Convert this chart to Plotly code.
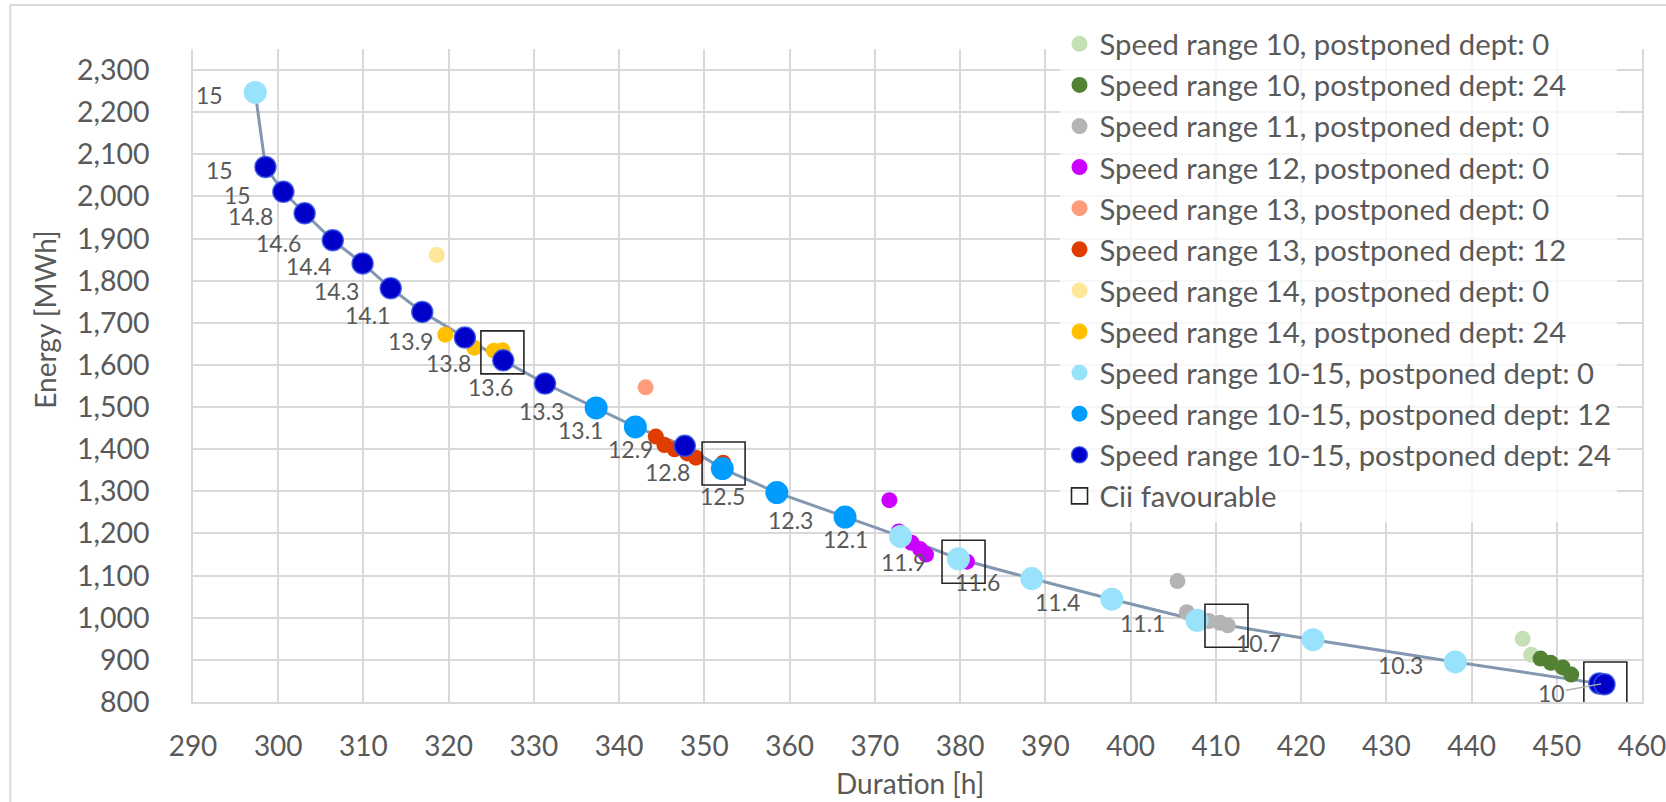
import plotly.graph_objects as go

# ---------------- data ----------------
front_x = [297.3, 298.5, 300.6, 303.1, 306.4, 309.9, 313.2, 316.9, 321.9, 326.4, 331.3, 337.3, 341.9,
           347.7, 352.1, 358.5, 366.5, 373.0, 379.8, 388.4, 397.8, 407.8, 421.4, 438.1, 455.2]
front_y = [2247, 2070, 2011, 1960, 1896, 1841, 1782, 1726, 1665, 1611, 1556, 1498, 1453,
           1408, 1354, 1297, 1239, 1193, 1140, 1093, 1044, 994, 948, 895, 843]
front_labels = ["15", "15", "15", "14.8", "14.6", "14.4", "14.3", "14.1", "13.9", "13.8", "13.6", "13.3", "13.1",
                "12.9", "12.8", "12.5", "12.3", "12.1", "11.9", "11.6", "11.4", "11.1", "10.7", "10.3", "10"]

s10_d0_x = [446.0, 447.0]
s10_d0_y = [950, 912]
s10_d24_x = [448.1, 449.3, 450.7, 451.7]
s10_d24_y = [903, 893, 882, 865]
s11_d0_x = [405.5, 406.6, 409.2, 410.5, 411.4]
s11_d0_y = [1087, 1013, 992, 988, 982]
s12_d0_x = [371.7, 372.8, 374.3, 375.3, 376.0, 380.8]
s12_d0_y = [1279, 1205, 1178, 1163, 1150, 1133]
s13_d0_x = [343.1]
s13_d0_y = [1547]
s13_d12_x = [344.3, 345.3, 346.5, 348.0, 349.0, 352.2]
s13_d12_y = [1430, 1410, 1400, 1390, 1380, 1368]
s14_d0_x = [318.6]
s14_d0_y = [1861]
s14_d24_x = [319.6, 323.0, 325.3, 326.3]
s14_d24_y = [1672, 1641, 1634, 1635]
s1015_d0_x = [297.3, 373.0, 379.8, 388.4, 397.8, 407.8, 421.4, 438.1]
s1015_d0_y = [2247, 1193, 1140, 1093, 1044, 994, 948, 895]
s1015_d12_x = [337.3, 341.9, 352.1, 358.5, 366.5]
s1015_d12_y = [1498, 1453, 1354, 1297, 1239]
s1015_d24_x = [298.5, 300.6, 303.1, 306.4, 309.9, 313.2, 316.9, 321.9, 326.4, 331.3, 347.7, 455.0, 455.6]
s1015_d24_y = [2070, 2011, 1960, 1896, 1841, 1782, 1726, 1665, 1611, 1556, 1408, 844, 842]
cii_x = [326.3, 352.25, 380.4, 411.25, 455.7]
cii_y = [1630, 1366, 1133, 981, 844]

x_ticks = list(range(290, 461, 10))
y_ticks = list(range(800, 2301, 100))

# ---------------- figure ----------------
FONT = "Lato"
TXT = "#595959"
GRID = "#d9d9d9"

fig = go.Figure()

fig.add_trace(go.Scatter(x=front_x, y=front_y, mode="lines",
                         line=dict(color="#8497b0", width=3), showlegend=False, hoverinfo="skip"))

small = [
    ("Speed range 10, postponed dept: 0", s10_d0_x, s10_d0_y, "#c5e0b4"),
    ("Speed range 10, postponed dept: 24", s10_d24_x, s10_d24_y, "#548235"),
    ("Speed range 11, postponed dept: 0", s11_d0_x, s11_d0_y, "#b4b4b4"),
    ("Speed range 12, postponed dept: 0", s12_d0_x, s12_d0_y, "#cc00ff"),
    ("Speed range 13, postponed dept: 0", s13_d0_x, s13_d0_y, "#ff9c7c"),
    ("Speed range 13, postponed dept: 12", s13_d12_x, s13_d12_y, "#e03c00"),
    ("Speed range 14, postponed dept: 0", s14_d0_x, s14_d0_y, "#ffe699"),
    ("Speed range 14, postponed dept: 24", s14_d24_x, s14_d24_y, "#ffc000"),
]
for i, (name, xs, ys, col) in enumerate(small):
    fig.add_trace(go.Scatter(x=xs, y=ys, mode="markers", name=name, legendgroup=f"g{i}",
                             marker=dict(color=col, size=16, line=dict(width=0))))

big = [
    ("Speed range 10-15, postponed dept: 0", s1015_d0_x, s1015_d0_y, "#99e2fc", 23, None),
    ("Speed range 10-15, postponed dept: 12", s1015_d12_x, s1015_d12_y, "#009dff", 23, None),
    ("Speed range 10-15, postponed dept: 24", s1015_d24_x, s1015_d24_y, "#0000c8", 21, "rgba(50,80,230,0.85)"),
]
for j, (name, xs, ys, col, sz, lc) in enumerate(big):
    mk = dict(color=col, size=sz)
    mk["line"] = dict(width=1.5, color=lc) if lc else dict(width=0)
    fig.add_trace(go.Scatter(x=xs, y=ys, mode="markers", name=name, legendgroup=f"b{j}", marker=mk))

fig.add_trace(go.Scatter(x=cii_x, y=cii_y, mode="markers", name="Cii favourable", legendgroup="cii",
                         marker=dict(symbol="square-open", size=43, color="#262626",
                                     line=dict(width=1.6, color="#262626"))))

# data labels of the front line
for k, (xv, yv, lab) in enumerate(zip(front_x, front_y, front_labels)):
    if k == len(front_x) - 1:
        fig.add_annotation(x=xv, y=yv, text=lab, showarrow=True, ax=-50, ay=9,
                           arrowhead=0, arrowwidth=1.5, arrowcolor="#b0b0b0", standoff=0,
                           font=dict(family=FONT, size=23, color=TXT))
    else:
        fig.add_annotation(x=xv, y=yv, text=lab, showarrow=False, xanchor="right", yanchor="middle",
                           xshift=-30, yshift=-3, font=dict(family=FONT, size=23, color=TXT))

# axis titles
fig.add_annotation(text="Energy [MWh]", xref="paper", yref="paper", x=-0.1019, y=0.586,
                   textangle=-90, showarrow=False, xanchor="center", yanchor="middle",
                   font=dict(family=FONT, size=28, color=TXT))
fig.add_annotation(text="Duration [h]", xref="paper", yref="paper", x=0.4947, y=-0.1246,
                   showarrow=False, xanchor="center", yanchor="middle",
                   font=dict(family=FONT, size=28, color=TXT))

# outer chart border (left & top)
fig.add_shape(type="line", xref="paper", yref="paper", x0=(10 - 192.7) / 1449, x1=(10 - 192.7) / 1449,
              y0=1 - (5 - 49) / 652.7, y1=1 - (802 - 49) / 652.7, line=dict(color=GRID, width=2))
fig.add_shape(type="line", xref="paper", yref="paper", x0=(10 - 192.7) / 1449, x1=(1666 - 192.7) / 1449,
              y0=1 - (5 - 49) / 652.7, y1=1 - (5 - 49) / 652.7, line=dict(color=GRID, width=2))

fig.update_layout(
    width=1666, height=802,
    margin=dict(l=193, r=24, t=49, b=100, pad=0),
    paper_bgcolor="white", plot_bgcolor="white",
    font=dict(family=FONT, color=TXT),
    xaxis=dict(range=[290, 460], tickvals=x_ticks, showgrid=True, gridcolor=GRID, gridwidth=1.5,
               showline=True, linecolor=GRID, linewidth=2, zeroline=False, ticks="",
               tickfont=dict(family=FONT, size=28, color=TXT), ticklabelstandoff=18,
               ticklabeloverflow="allow", automargin=False),
    yaxis=dict(range=[800, 2350], tickvals=y_ticks, tickformat=",", showgrid=True, gridcolor=GRID,
               gridwidth=1.5, showline=True, mirror=True, linecolor=GRID, linewidth=1.5, zeroline=False,
               ticks="", tickfont=dict(family=FONT, size=28.5, color=TXT), ticklabelstandoff=36,
               automargin=False),
    legend=dict(x=0.598, y=1.047, xanchor="left", yanchor="top", bgcolor="rgba(255,255,255,0.78)",
                font=dict(family=FONT, size=29.3, color=TXT), tracegroupgap=0, traceorder="normal",
                itemsizing="trace", maxheight=760),
    showlegend=True,
)

fig.write_html("out.html", config={"displayModeBar": False},
               post_script="document.body.style.margin='0px';")
